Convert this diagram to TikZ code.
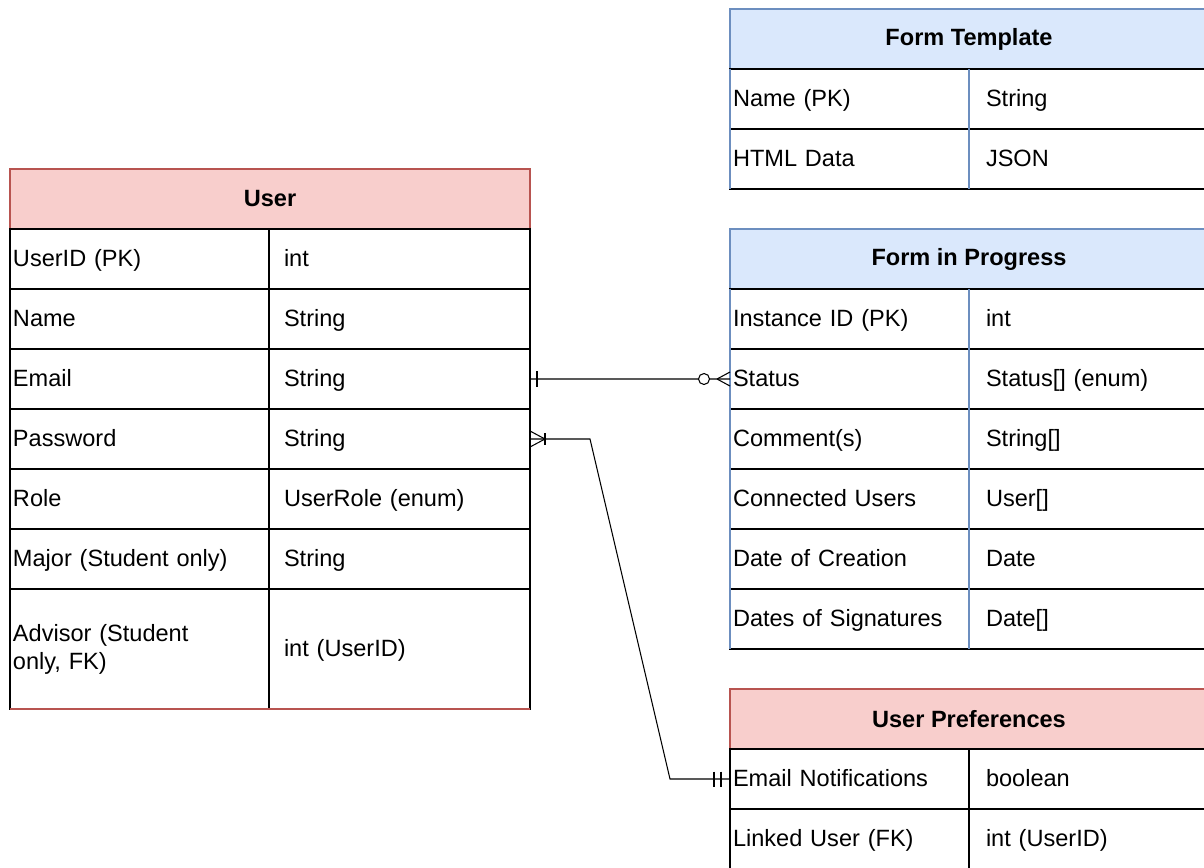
\documentclass[tikz,border=0pt]{standalone}
\usepackage{fontspec}
\setmainfont{Liberation Sans}
\usepackage{tikz}
\usetikzlibrary{positioning}
\definecolor{redfill}{HTML}{F8CECC}
\definecolor{redline}{HTML}{B85450}
\definecolor{bluefill}{HTML}{DAE8FC}
\definecolor{blueline}{HTML}{6C8EBF}
\tikzstyle{redhead} = [rectangle, minimum width=10.4cm, minimum height=1.2cm, text centered, draw=redline, fill=redfill, font=\fontsize{13.4}{16}\selectfont\bfseries, anchor=north west]
\tikzstyle{bluehead} = [rectangle, minimum width=9.56cm, minimum height=1.2cm, text centered, draw=blueline, fill=bluefill, font=\fontsize{13.4}{16}\selectfont\bfseries, anchor=north west]
\tikzstyle{userkey} = [rectangle, minimum height=1.2cm, text width=5.06cm, inner xsep=0.06cm, inner ysep=0pt, align=left, draw=black, text height=10pt, text depth=1pt]
\tikzstyle{userval} = [rectangle, minimum height=1.2cm, text width=4.62cm, inner xsep=0.3cm, inner ysep=0pt, align=left, draw=black, text height=10pt, text depth=1pt]
\tikzstyle{useradv} = [rectangle, minimum height=2.4cm, text width=5.06cm, inner xsep=0.06cm, inner ysep=0pt, align=left, draw=black]
\tikzstyle{formkey} = [rectangle, minimum height=1.2cm, text width=4.66cm, inner xsep=0.06cm, inner ysep=0pt, align=left, draw=black, text height=10pt, text depth=1pt]
\tikzstyle{formval} = [rectangle, minimum height=1.2cm, text width=4.1cm, inner xsep=0.34cm, inner ysep=0pt, align=left, draw=black, text height=10pt, text depth=1pt]
\tikzstyle{rel} = [line width=0.6pt]

\begin{document}
\begin{tikzpicture}[line width=0.6pt, outer sep=0pt, font=\fontsize{13.4}{16}\selectfont]
    \clip (0,0) rectangle (24.08,-17.34);
    \fill[white] (0,0) rectangle (24.08,-17.34);

    % User
    \node (userhead) [redhead] at (0.2,-3.38) {User};
    \node (uidk) [userkey, below=0pt of userhead.south west, anchor=north west] {UserID (PK)};
    \node (uidv) [userval, right=0pt of uidk] {int};
    \node (unamek) [userkey, below=0pt of uidk] {Name};
    \node (unamev) [userval, right=0pt of unamek] {String};
    \node (uemailk) [userkey, below=0pt of unamek] {Email};
    \node (uemailv) [userval, right=0pt of uemailk] {String};
    \node (upassk) [userkey, below=0pt of uemailk] {Password};
    \node (upassv) [userval, right=0pt of upassk] {String};
    \node (urolek) [userkey, below=0pt of upassk] {Role};
    \node (urolev) [userval, right=0pt of urolek] {UserRole (enum)};
    \node (umajork) [userkey, below=0pt of urolek] {Major (Student only)};
    \node (umajorv) [userval, right=0pt of umajork] {String};
    \node (uadvk) [useradv, below=0pt of umajork] {Advisor (Student\\only, FK)};
    \node (uadvv) [userval, minimum height=2.4cm, right=0pt of uadvk] {int (UserID)};
    \draw [redline] (uadvk.south west) -- (uadvv.south east);

    % Form Template
    \node (fthead) [bluehead] at (14.6,-0.18) {Form Template};
    \node (ftnamek) [formkey, below=0pt of fthead.south west, anchor=north west] {Name (PK)};
    \node (ftnamev) [formval, right=0pt of ftnamek] {String};
    \node (fthtmlk) [formkey, below=0pt of ftnamek] {HTML Data};
    \node (fthtmlv) [formval, right=0pt of fthtmlk] {JSON};
    \draw [blueline] (ftnamek.north west) -- (fthtmlk.south west);
    \draw [blueline] (ftnamek.north east) -- (fthtmlk.south east);

    % Form in Progress
    \node (fphead) [bluehead] at (14.6,-4.58) {Form in Progress};
    \node (fpidk) [formkey, below=0pt of fphead.south west, anchor=north west] {Instance ID (PK)};
    \node (fpidv) [formval, right=0pt of fpidk] {int};
    \node (fpstatk) [formkey, below=0pt of fpidk] {Status};
    \node (fpstatv) [formval, right=0pt of fpstatk] {Status[] (enum)};
    \node (fpcomk) [formkey, below=0pt of fpstatk] {Comment(s)};
    \node (fpcomv) [formval, right=0pt of fpcomk] {String[]};
    \node (fpconk) [formkey, below=0pt of fpcomk] {Connected Users};
    \node (fpconv) [formval, right=0pt of fpconk] {User[]};
    \node (fpdatek) [formkey, below=0pt of fpconk] {Date of Creation};
    \node (fpdatev) [formval, right=0pt of fpdatek] {Date};
    \node (fpsignk) [formkey, below=0pt of fpdatek] {Dates of Signatures};
    \node (fpsignv) [formval, right=0pt of fpsignk] {Date[]};
    \draw [blueline] (fpidk.north west) -- (fpsignk.south west);
    \draw [blueline] (fpidk.north east) -- (fpsignk.south east);

    % User Preferences
    \node (uphead) [redhead, minimum width=9.56cm] at (14.6,-13.78) {User Preferences};
    \node (upnotk) [formkey, below=0pt of uphead.south west, anchor=north west] {Email Notifications};
    \node (upnotv) [formval, right=0pt of upnotk] {boolean};
    \node (uplinkk) [formkey, below=0pt of upnotk] {Linked User (FK)};
    \node (uplinkv) [formval, right=0pt of uplinkk] {int (UserID)};

    % User -- Form in Progress (one to zero or many)
    \draw [rel] (uemailv.east) -- (fpstatk.west);
    \draw [rel] ([xshift=0.14cm, yshift=0.16cm]uemailv.east) -- ++(0,-0.32);
    \draw [rel] ([xshift=-0.26cm]fpstatk.west) -- ([yshift=0.14cm]fpstatk.west);
    \draw [rel] ([xshift=-0.26cm]fpstatk.west) -- ([yshift=-0.14cm]fpstatk.west);
    \draw [rel, fill=white] ([xshift=-0.52cm]fpstatk.west) circle (0.11cm);

    % User -- User Preferences (one or many to one)
    \draw [rel] (upassv.east) -- ++(1.2,0) -- ([xshift=-1.2cm]upnotk.west) -- (upnotk.west);
    \draw [rel] ([yshift=0.16cm]upassv.east) -- ([xshift=0.3cm]upassv.east) -- ([yshift=-0.16cm]upassv.east);
    \draw [rel] ([xshift=0.3cm, yshift=0.12cm]upassv.east) -- ++(0,-0.24);
    \draw [rel] ([xshift=-0.32cm, yshift=0.15cm]upnotk.west) -- ++(0,-0.3);
    \draw [rel] ([xshift=-0.18cm, yshift=0.15cm]upnotk.west) -- ++(0,-0.3);
\end{tikzpicture}
\end{document}
